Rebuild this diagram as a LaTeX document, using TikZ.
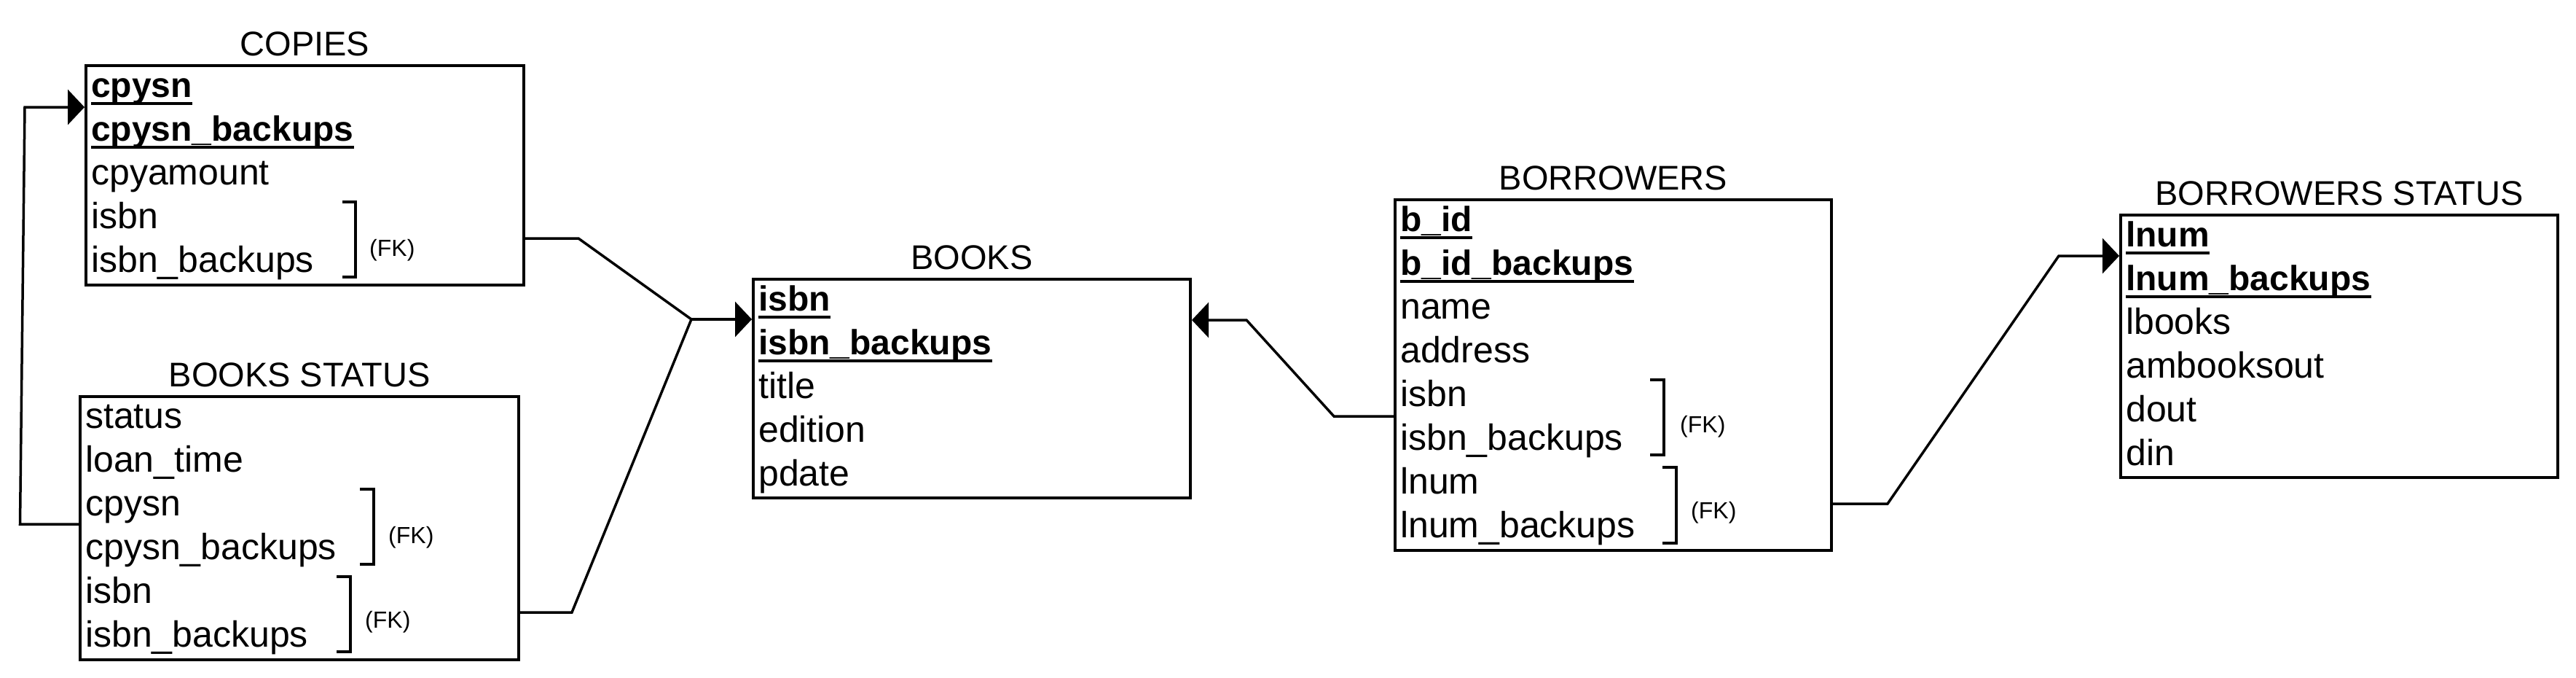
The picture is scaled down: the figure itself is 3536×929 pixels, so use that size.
\documentclass[tikz,border=0pt]{standalone}
\usepackage{fontspec}
\setmainfont{Liberation Sans}
\usetikzlibrary{arrows.meta}
\begin{document}
\begin{tikzpicture}[x=1pt,y=-1pt,
  tbl/.style={draw, line width=4pt, inner sep=0pt, anchor=north west},
  ttl/.style={font=\fontsize{47}{56}\selectfont, anchor=base, inner sep=0pt},
  row/.style={font=\fontsize{50}{60}\selectfont, anchor=base west, inner sep=0pt},
  key/.style={row, font=\fontsize{48}{58}\selectfont\bfseries},
  fk/.style={font=\fontsize{32}{38}\selectfont, anchor=west, inner sep=0pt},
  brk/.style={line width=4pt, line join=miter},
  conn/.style={line width=3.5pt, line join=miter},
  arr/.style={conn, -{Triangle[length=23pt,width=48pt]}},
  uline/.style={line width=3.5pt}
]
\useasboundingbox (0,0) rectangle (3536,929);
\newcommand\keyrow[3]{\node[key] (#1) at (#2) {#3};
  \draw[uline] ([yshift=-9pt]#1.base west) -- ([yshift=-9pt]#1.base east);}

% ---------- COPIES ----------
\node[tbl, minimum width=601pt, minimum height=301pt] (copies) at (116,88) {};
\node[ttl] (tcopies) at ([yshift=12pt]copies.north) {COPIES};
\keyrow{c1}{125,133}{cpysn}
\keyrow{c2}{125,193}{cpysn\_backups}
\node[row] (c3) at (125,253) {cpyamount};
\node[row] (c4) at (125,313) {isbn};
\node[row] (c5) at (125,373) {isbn\_backups};
\draw[brk] (470,277) -- (488,277) -- (488,380) -- (470,380);
\node[fk] (fkc) at (507,343) {(FK)};

% ---------- BOOKS STATUS ----------
\node[tbl, minimum width=602pt, minimum height=361pt] (bstat) at (108,542) {};
\node[ttl] (tbstat) at ([yshift=12pt]bstat.north) {BOOKS STATUS};
\node[row] (s1) at (117,587) {status};
\node[row] (s2) at (117,647) {loan\_time};
\node[row] (s3) at (117,707) {cpysn};
\node[row] (s4) at (117,767) {cpysn\_backups};
\node[row] (s5) at (117,827) {isbn};
\node[row] (s6) at (117,887) {isbn\_backups};
\draw[brk] (494,671) -- (513,671) -- (513,774) -- (494,774);
\node[fk] (fks1) at (533,737) {(FK)};
\draw[brk] (462,791) -- (481,791) -- (481,894) -- (462,894);
\node[fk] (fks2) at (501,853) {(FK)};

% ---------- BOOKS ----------
\node[tbl, minimum width=600pt, minimum height=300pt] (books) at (1032,381) {};
\node[ttl] (tbooks) at ([yshift=12pt]books.north) {BOOKS};
\keyrow{k1}{1041,426}{isbn}
\keyrow{k2}{1041,486}{isbn\_backups}
\node[row] (k3) at (1041,546) {title};
\node[row] (k4) at (1041,606) {edition};
\node[row] (k5) at (1041,666) {pdate};

% ---------- BORROWERS ----------
\node[tbl, minimum width=599pt, minimum height=481pt] (borr) at (1913,272) {};
\node[ttl] (tborr) at ([yshift=12pt]borr.north) {BORROWERS};
\keyrow{r1}{1922,317}{b\_id}
\keyrow{r2}{1922,377}{b\_id\_backups}
\node[row] (r3) at (1922,437) {name};
\node[row] (r4) at (1922,497) {address};
\node[row] (r5) at (1922,557) {isbn};
\node[row] (r6) at (1922,617) {isbn\_backups};
\node[row] (r7) at (1922,677) {lnum};
\node[row] (r8) at (1922,737) {lnum\_backups};
\draw[brk] (2265,521) -- (2284,521) -- (2284,624) -- (2265,624);
\node[fk] (fkr1) at (2306,585) {(FK)};
\draw[brk] (2282,641) -- (2301,641) -- (2301,745) -- (2282,745);
\node[fk] (fkr2) at (2321,703) {(FK)};

% ---------- BORROWERS STATUS ----------
\node[tbl, minimum width=600pt, minimum height=360pt] (bs) at (2909,293) {};
\node[ttl] (tbs) at ([yshift=12pt]bs.north) {BORROWERS STATUS};
\keyrow{t1}{2918,338}{lnum}
\keyrow{t2}{2918,398}{lnum\_backups}
\node[row] (t3) at (2918,458) {lbooks};
\node[row] (t4) at (2918,518) {ambooksout};
\node[row] (t5) at (2918,578) {dout};
\node[row] (t6) at (2918,638) {din};

% ---------- connectors ----------
\coordinate (jn) at (949,438);
\coordinate (b1) at (794,327);
\draw[conn] (copies.east |- b1) -- (b1) -- (jn);
\coordinate (b2) at (785,840);
\draw[conn] (bstat.east |- b2) -- (b2) -- (jn);
\draw[arr] (jn) -- (books.west |- jn);

\coordinate (b3) at (27.5,719);
\coordinate (b4) at (34,147);
\draw[arr] (bstat.west |- b3) -- (b3) -- (b4) -- (copies.west |- b4);

\coordinate (b5) at (1831,571);
\coordinate (b6) at (1711,439);
\draw[arr] (borr.west |- b5) -- (b5) -- (b6) -- (books.east |- b6);

\coordinate (b7) at (2591,691);
\coordinate (b8) at (2826,351);
\draw[arr] (borr.east |- b7) -- (b7) -- (b8) -- (bs.west |- b8);
\end{tikzpicture}
\end{document}
